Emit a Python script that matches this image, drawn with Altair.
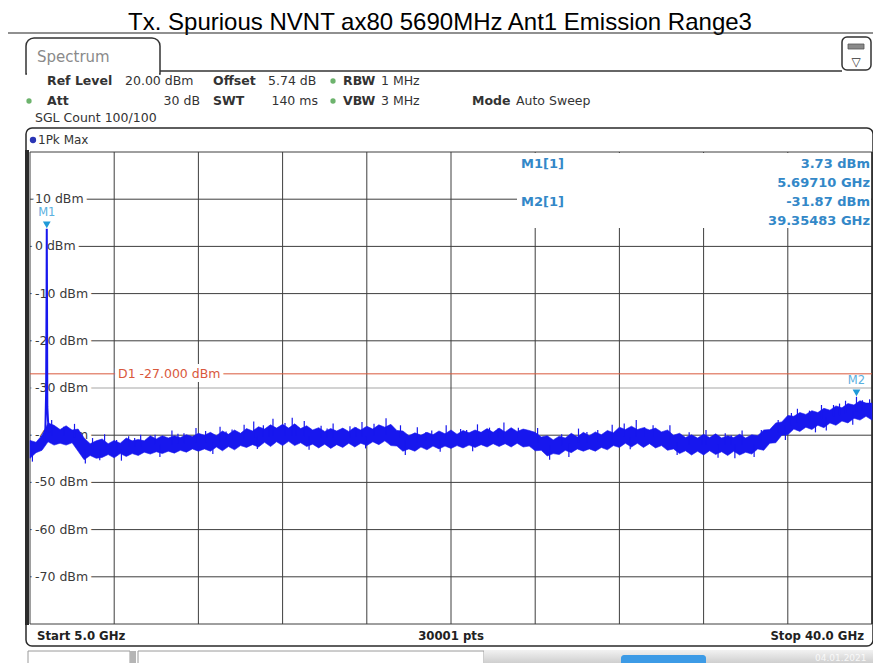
import altair as alt
import pandas as pd

# ---------------- values ----------------
freq_ghz = [
    5.00, 5.25, 5.50, 5.75, 6.00, 6.25, 6.50, 6.75, 7.00, 7.25, 7.50, 7.75,
    8.00, 8.25, 8.50, 8.75, 9.00, 9.25, 9.50, 9.75, 10.00, 10.25, 10.50, 10.75,
    11.00, 11.25, 11.50, 11.75, 12.00, 12.25, 12.50, 12.75, 13.00, 13.25, 13.50, 13.75,
    14.00, 14.25, 14.50, 14.75, 15.00, 15.25, 15.50, 15.75, 16.00, 16.25, 16.50, 16.75,
    17.00, 17.25, 17.50, 17.75, 18.00, 18.25, 18.50, 18.75, 19.00, 19.25, 19.50, 19.75,
    20.00, 20.25, 20.50, 20.75, 21.00, 21.25, 21.50, 21.75, 22.00, 22.25, 22.50, 22.75,
    23.00, 23.25, 23.50, 23.75, 24.00, 24.25, 24.50, 24.75, 25.00, 25.25, 25.50, 25.75,
    26.00, 26.25, 26.50, 26.75, 27.00, 27.25, 27.50, 27.75, 28.00, 28.25, 28.50, 28.75,
    29.00, 29.25, 29.50, 29.75, 30.00, 30.25, 30.50, 30.75, 31.00, 31.25, 31.50, 31.75,
    32.00, 32.25, 32.50, 32.75, 33.00, 33.25, 33.50, 33.75, 34.00, 34.25, 34.50, 34.75,
    35.00, 35.25, 35.50, 35.75, 36.00, 36.25, 36.50, 36.75, 37.00, 37.25, 37.50, 37.75,
    38.00, 38.25, 38.50, 38.75, 39.00, 39.25, 39.50, 39.75, 40.00,
]
trace_low_dbm = [
    -44.9, -43.7, -43.2, -41.4, -42.1, -41.7, -42.1, -41.6, -43.4, -45.2, -44.3, -44.9,
    -44.7, -44.1, -44.8, -43.9, -44.5, -43.9, -44.3, -43.6, -44.0, -43.5, -43.9, -43.4,
    -43.8, -43.2, -43.6, -42.9, -43.4, -42.9, -43.4, -42.5, -43.3, -42.4, -43.1, -42.2,
    -42.6, -42.0, -42.5, -41.5, -42.4, -41.4, -42.2, -41.3, -42.2, -41.6, -42.4, -41.9,
    -42.7, -41.9, -42.8, -42.0, -42.6, -41.7, -42.5, -41.7, -42.2, -41.4, -42.0, -41.2,
    -42.2, -42.3, -43.4, -42.9, -43.4, -42.5, -43.1, -42.3, -42.9, -42.3, -42.8, -42.2,
    -42.7, -42.1, -42.6, -42.0, -42.5, -41.8, -42.4, -41.8, -42.5, -41.7, -42.5, -42.3,
    -43.3, -43.2, -44.4, -43.9, -44.1, -43.2, -43.7, -42.9, -43.4, -42.9, -43.4, -42.6,
    -43.1, -42.2, -42.6, -41.7, -42.5, -41.7, -42.6, -41.8, -42.7, -42.2, -43.2, -42.9,
    -43.9, -43.3, -44.2, -43.4, -44.2, -43.3, -44.1, -43.5, -44.3, -43.4, -44.2, -43.6,
    -44.0, -42.9, -43.2, -41.7, -41.6, -40.0, -39.9, -38.7, -39.2, -38.3, -38.8, -37.9,
    -38.4, -37.4, -37.9, -37.0, -37.4, -36.4, -36.8, -36.0, -36.8,
]
trace_high_dbm = [
    -41.1, -41.5, -40.0, -37.4, -37.9, -38.8, -38.0, -38.9, -38.7, -40.6, -41.8, -41.2,
    -40.8, -41.8, -41.1, -41.7, -40.6, -41.2, -40.9, -41.2, -40.1, -40.8, -40.1, -40.6,
    -40.1, -40.5, -39.9, -40.3, -39.6, -40.0, -39.4, -40.1, -39.1, -39.8, -38.9, -39.6,
    -38.6, -39.1, -38.2, -38.7, -37.8, -38.5, -37.7, -38.5, -37.6, -38.6, -38.0, -38.9,
    -38.4, -39.2, -38.6, -39.1, -38.5, -39.2, -38.3, -38.9, -38.1, -38.7, -37.8, -38.3,
    -37.7, -39.0, -39.1, -40.1, -39.5, -40.0, -39.4, -39.9, -39.1, -39.7, -38.9, -39.8,
    -39.0, -39.5, -38.9, -39.4, -38.6, -39.4, -38.5, -39.3, -38.4, -39.2, -38.7, -39.0,
    -39.4, -40.4, -40.1, -41.0, -40.2, -40.6, -39.6, -40.4, -39.4, -40.1, -39.3, -39.9,
    -39.0, -39.5, -38.3, -38.8, -38.1, -38.8, -38.4, -38.9, -38.5, -39.3, -38.9, -40.0,
    -39.6, -40.5, -39.9, -40.6, -39.8, -40.5, -39.7, -40.6, -40.1, -40.5, -39.8, -40.6,
    -39.9, -40.1, -38.9, -38.8, -37.4, -37.2, -35.8, -36.0, -35.2, -35.6, -34.8, -35.2,
    -34.3, -34.7, -33.8, -34.2, -33.3, -33.6, -32.7, -33.2, -33.2,
]

# isolated noise spikes: frequency, band level, spike tip
spike_freq_ghz = [
    5.90, 6.40, 6.85, 7.60, 8.10, 8.60, 9.10, 9.60, 10.20, 10.90, 11.40, 11.90,
    12.30, 12.90, 13.40, 13.90, 14.30, 14.70, 15.10, 15.60, 15.90, 16.40, 17.10, 17.60,
    18.30, 18.80, 19.30, 19.80, 20.40, 21.10, 21.70, 22.30, 22.90, 23.60, 24.10, 24.70,
    25.30, 26.10, 27.10, 27.80, 28.60, 29.20, 29.70, 30.20, 30.90, 31.60, 32.40, 33.10,
    33.90, 34.60, 35.40, 36.10, 36.90, 37.40, 37.90, 38.40, 38.90, 39.35483, 39.60, 39.90,
    9.35, 11.15, 13.15, 14.95, 16.05, 17.35, 18.55, 21.45, 23.15, 24.45, 28.15, 30.55,
    32.95, 34.15, 36.65, 38.65,
    5.10, 7.30, 7.90, 8.80, 10.40, 12.60, 16.60, 20.60, 23.40, 26.60, 27.40, 31.90,
    33.60, 34.30, 35.10, 36.40, 38.10, 39.20, 14.45, 18.95, 22.05, 29.95, 37.65,
]
spike_base_dbm = [
    -40.0, -40.0, -40.5, -43.0, -42.5, -43.0, -42.5, -42.5, -42.0, -42.0, -41.8, -41.5,
    -41.5, -41.3, -41.0, -40.8, -40.5, -40.2, -40.0, -40.0, -40.0, -40.2, -40.5, -40.6,
    -40.5, -40.3, -40.0, -39.8, -40.5, -41.5, -41.2, -41.0, -41.0, -40.8, -40.6, -40.5,
    -40.6, -41.5, -42.2, -41.6, -41.4, -41.0, -40.3, -40.3, -40.4, -41.0, -42.0, -42.0,
    -42.0, -42.0, -41.5, -39.5, -37.3, -37.0, -36.6, -36.0, -35.5, -35.0, -34.8, -34.8,
    -42.5, -41.8, -41.0, -40.2, -40.0, -40.6, -40.4, -41.3, -40.8, -40.6, -41.6, -40.4,
    -42.0, -42.0, -38.0, -35.8,
    -43.0, -43.0, -43.0, -43.0, -42.0, -41.5, -40.2, -41.2, -40.8, -42.2, -41.8, -41.6,
    -42.0, -42.0, -42.0, -38.0, -36.3, -35.0, -40.3, -40.3, -41.0, -40.4, -37.0,
]
spike_tip_dbm = [
    -36.8, -38.2, -37.6, -40.6, -39.8, -41.0, -40.2, -39.9, -39.9, -39.0, -39.6, -38.5,
    -39.1, -38.2, -38.8, -37.8, -37.1, -37.9, -36.5, -37.4, -36.3, -37.0, -38.0, -37.5,
    -38.1, -37.2, -37.6, -36.4, -37.9, -38.3, -39.0, -37.9, -38.7, -37.7, -38.4, -37.3,
    -38.4, -38.5, -39.8, -38.6, -38.9, -37.8, -37.5, -36.8, -37.9, -37.9, -39.4, -38.9,
    -39.6, -39.0, -38.9, -36.8, -34.4, -34.8, -33.6, -33.6, -32.7, -31.87, -32.6, -32.4,
    -40.6, -39.7, -39.2, -38.0, -37.8, -38.6, -38.3, -39.4, -38.9, -38.6, -39.3, -38.3,
    -40.1, -40.0, -35.3, -33.3,
    -45.6, -46.0, -45.3, -45.4, -44.6, -44.0, -43.1, -44.2, -43.4, -45.2, -44.6, -44.2,
    -44.8, -44.9, -44.6, -41.0, -39.0, -37.8, -42.9, -42.8, -43.5, -43.0, -39.4,
]

# carrier at 5.69 GHz
carrier_freq_ghz = [5.58, 5.64, 5.67, 5.69, 5.6971, 5.705, 5.72, 5.75, 5.80]
carrier_dbm = [-42.0, -38.5, -31.0, -8.0, 3.73, -8.0, -34.0, -37.0, -39.5]

grid_freq_ghz = [5.0, 8.5, 12.0, 15.5, 19.0, 22.5, 26.0, 29.5, 33.0, 36.5, 40.0]
grid_level_dbm = [20, 10, 0, -10, -20, -30, -40, -50, -60, -70, -80]
label_level_dbm = [10, 0, -10, -20, -30, -40, -50, -60, -70]
label_text = ["10 dBm", "0 dBm", "-10 dBm", "-20 dBm", "-30 dBm", "-40 dBm",
              "-50 dBm", "-60 dBm", "-70 dBm"]
display_line_dbm = [-27.0]
display_line_text = ["D1  -27.000 dBm"]
marker_name = ["M1", "M2"]
marker_freq_ghz = [5.69710, 39.35483]
marker_level_dbm = [3.73, -31.87]

# ---------------- chart ----------------
W, H = 842, 472
BLUE = "#1717ee"
GRID = "#3e3e3e"
MK = "#3388c8"
FONT = "DejaVu Sans"
XS = alt.Scale(domain=[5, 40], nice=False, zero=False)
YS = alt.Scale(domain=[-80, 20], nice=False, zero=False)
ONE = pd.DataFrame({"k": [0]})


def txt(s, px, py, size=12.5, color="#333333", weight="normal", align="left",
        font=FONT, baseline="alphabetic", opacity=1.0):
    return alt.Chart(ONE).mark_text(
        text=s, align=align, baseline=baseline, font=font, fontSize=size,
        fontWeight=weight, color=color, opacity=opacity
    ).encode(x=alt.value(px), y=alt.value(py))


def box(x1, y1, x2, y2, **props):
    return alt.Chart(ONE).mark_rect(**props).encode(
        x=alt.value(x1), x2=alt.value(x2), y=alt.value(y1), y2=alt.value(y2))


def seg(x1, y1, x2, y2, color="#333333", sw=1.0):
    return alt.Chart(ONE).mark_rule(color=color, strokeWidth=sw).encode(
        x=alt.value(x1), x2=alt.value(x2), y=alt.value(y1), y2=alt.value(y2))


def dot(px, py, color, size=28):
    return alt.Chart(ONE).mark_point(shape="circle", filled=True, size=size,
                                     color=color, opacity=1).encode(
        x=alt.value(px), y=alt.value(py))


layers = []

# title
layers.append(txt("Tx. Spurious NVNT ax80 5690MHz Ant1 Emission Range3", 410, -122,
                  size=24, color="#000000", align="center", font="Liberation Sans"))
layers.append(seg(-22, -119, W + 1, -119, color="#222222", sw=1.2))

# Spectrum tab and top bar
layers.append(box(-4, -114, 130, -78, fill="white", stroke="#333333", strokeWidth=1.5,
                  cornerRadiusTopLeft=8, cornerRadiusTopRight=8))
layers.append(box(-3, -80, 129, -76, fill="white"))
layers.append(seg(130, -81, 812, -81, color="#333333", sw=1.5))
layers.append(txt("Spectrum", 7, -90, size=15, color="#8a8a8a"))
layers.append(box(812, -115, W - 1, -82, fill="white", stroke="#333333", strokeWidth=1.5,
                  cornerRadius=5))
layers.append(box(818, -108, 834, -103, fill="#8a8a8a", stroke="#555555", strokeWidth=0.8))
layers.append(txt("\u25bd", 826, -86, size=12, color="#333333", align="center"))

# header settings
r1, r2, r3 = -67, -47, -30
for s, x, y, w, a in [
    ("Ref Level", 17, r1, "bold", "left"), ("20.00 dBm", 95, r1, "normal", "left"),
    ("Offset", 183, r1, "bold", "left"), ("5.74 dB", 238, r1, "normal", "left"),
    ("RBW", 313, r1, "bold", "left"), ("1 MHz", 351, r1, "normal", "left"),
    ("Att", 17, r2, "bold", "left"), ("30 dB", 170, r2, "normal", "right"),
    ("SWT", 183, r2, "bold", "left"), ("140 ms", 288, r2, "normal", "right"),
    ("VBW", 313, r2, "bold", "left"), ("3 MHz", 351, r2, "normal", "left"),
    ("Mode", 442, r2, "bold", "left"), ("Auto Sweep", 486, r2, "normal", "left"),
    ("SGL Count 100/100", 5, r3, "normal", "left"),
]:
    layers.append(txt(s, x, y, weight=w, align=a))
layers.append(dot(303, -71, "#6db36d"))
layers.append(dot(-1, -51, "#6db36d"))
layers.append(dot(303, -51, "#6db36d"))

# diagram frame
layers.append(box(-4, -24, W + 1, 494, fill="white", stroke="#2a2a2a", strokeWidth=1.5,
                  cornerRadius=6))
layers.append(dot(3, -12, "#2a35b5", size=40))
layers.append(txt("1Pk Max", 8, -8, size=12))

# grid
layers.append(alt.Chart(pd.DataFrame({"lvl": grid_level_dbm})).mark_rule(strokeWidth=1).encode(
    y=alt.Y("lvl:Q", scale=YS, axis=None),
    color=alt.condition("datum.lvl == -30", alt.value("#a5a5a5"), alt.value(GRID))))
layers.append(alt.Chart(pd.DataFrame({"f": grid_freq_ghz})).mark_rule(
    strokeWidth=1, color=GRID).encode(x=alt.X("f:Q", scale=XS, axis=None)))

# marker table background
layers.append(box(487, 1, W - 1, 76, fill="white"))
layers.append(alt.Chart(pd.DataFrame({"f": [40.0]})).mark_rule(
    strokeWidth=1.5, color="#2a2a2a").encode(x=alt.X("f:Q", scale=XS, axis=None)))
layers.append(seg(-3, -2, -3, H + 1, color="#2b2b2b", sw=4))

# level labels
lab = pd.DataFrame({"lvl": label_level_dbm, "t": label_text})
layers.append(alt.Chart(lab).mark_text(align="left", baseline="middle", font=FONT, fontSize=12.5,
                                       color="white", stroke="white", strokeWidth=8,
                                       strokeJoin="round").encode(
    x=alt.value(5), y=alt.Y("lvl:Q", scale=YS, axis=None), text="t:N"))
layers.append(alt.Chart(lab).mark_text(align="left", baseline="middle", font=FONT, fontSize=12.5,
                                       color="#3a3a3a").encode(
    x=alt.value(5), y=alt.Y("lvl:Q", scale=YS, axis=None), text="t:N"))

# display line D1
d1 = pd.DataFrame({"lvl": display_line_dbm, "t": display_line_text})
layers.append(alt.Chart(d1).mark_rule(color="#d9583c", strokeWidth=1).encode(
    y=alt.Y("lvl:Q", scale=YS, axis=None)))
layers.append(alt.Chart(d1).mark_text(align="left", baseline="middle", font=FONT, fontSize=12.5,
                                      color="white", stroke="white", strokeWidth=8,
                                      strokeJoin="round").encode(
    x=alt.value(88), y=alt.Y("lvl:Q", scale=YS, axis=None), text="t:N"))
layers.append(alt.Chart(d1).mark_text(align="left", baseline="middle", font=FONT, fontSize=12.5,
                                      color="#d9583c").encode(
    x=alt.value(88), y=alt.Y("lvl:Q", scale=YS, axis=None), text="t:N"))

# trace
tr = pd.DataFrame({"f": freq_ghz, "lo": trace_low_dbm, "hi": trace_high_dbm})
layers.append(alt.Chart(tr).mark_area(color=BLUE, opacity=1, stroke=BLUE, strokeWidth=0.6).encode(
    x=alt.X("f:Q", scale=XS, axis=None), y=alt.Y("lo:Q", scale=YS, axis=None), y2="hi:Q"))
sp = pd.DataFrame({"f": spike_freq_ghz, "b": spike_base_dbm, "t": spike_tip_dbm})
layers.append(alt.Chart(sp).mark_rule(color=BLUE, strokeWidth=1.2).encode(
    x=alt.X("f:Q", scale=XS, axis=None), y=alt.Y("b:Q", scale=YS, axis=None), y2="t:Q"))
ca = pd.DataFrame({"f": carrier_freq_ghz, "v": carrier_dbm})
layers.append(alt.Chart(ca).mark_line(color=BLUE, strokeWidth=2).encode(
    x=alt.X("f:Q", scale=XS, axis=None), y=alt.Y("v:Q", scale=YS, axis=None)))

# markers
mk = pd.DataFrame({"n": marker_name, "f": marker_freq_ghz, "v": marker_level_dbm})
layers.append(alt.Chart(mk).mark_point(shape="triangle-down", filled=True, size=60,
                                       color="#1f9ad8", opacity=1, yOffset=-4).encode(
    x=alt.X("f:Q", scale=XS, axis=None), y=alt.Y("v:Q", scale=YS, axis=None)))
layers.append(alt.Chart(mk).mark_text(font=FONT, fontSize=11.5, color="#5ab0e0", dy=-13,
                                      baseline="alphabetic", align="center").encode(
    x=alt.X("f:Q", scale=XS, axis=None), y=alt.Y("v:Q", scale=YS, axis=None), text="n:N"))

# marker readout
for s, x, y, a in [
    ("M1[1]", 491, 16, "left"), ("3.73 dBm", W - 2, 16, "right"),
    ("5.69710 GHz", W - 2, 35, "right"),
    ("M2[1]", 491, 54, "left"), ("-31.87 dBm", W - 2, 54, "right"),
    ("39.35483 GHz", W - 2, 73, "right"),
]:
    layers.append(txt(s, x, y, size=13, color=MK, weight="bold", align=a))

# status line
SF = "DejaVu Sans Condensed, DejaVu Sans"
layers.append(txt("Start 5.0 GHz", 7, 488, size=13, weight="bold", color="#222222", font=SF))
layers.append(txt("30001 pts", W / 2, 488, size=13, weight="bold", color="#222222", font=SF,
                  align="center"))
layers.append(txt("Stop 40.0 GHz", W - 8, 488, size=13, weight="bold", color="#222222", font=SF,
                  align="right"))

# toolbar
grad = alt.LinearGradient(gradient="linear", x1=0, x2=0, y1=0, y2=1,
                          stops=[alt.GradientStop(color="#f2f2f2", offset=0),
                                 alt.GradientStop(color="#a9a9a9", offset=1)])
layers.append(box(-2, 499, 100, 525, fill="white", stroke="#9a9a9a", strokeWidth=1))
layers.append(box(100, 499, 106, 525, fill="#b5b5b5"))
layers.append(box(108, 499, 454, 525, fill="white", stroke="#9a9a9a", strokeWidth=1))
layers.append(box(454, 498, W + 1, 525, fill=grad))
layers.append(box(591, 503, 676, 525, fill="#3d9be6", cornerRadius=3))
layers.append(txt("04.01.2021", 785, 509, size=9, color="#ffffff", opacity=0.8))

chart = alt.layer(*layers).properties(
    width=W, height=H,
    padding={"left": 22, "top": 144, "right": 1, "bottom": 39},
    autosize=alt.AutoSizeParams(type="none"),
    background="white",
).configure_view(stroke=None)

chart.save("out.html", embed_options={"renderer": "svg", "actions": False})
